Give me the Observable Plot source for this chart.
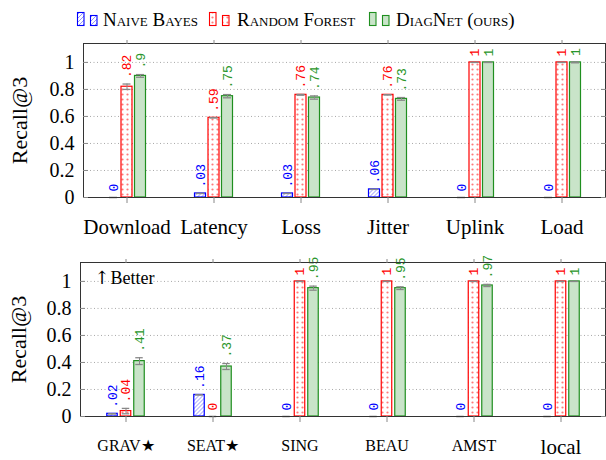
<!DOCTYPE html>
<html><head><meta charset="utf-8">
<script src="https://cdn.jsdelivr.net/npm/d3@7"></script>
<script src="https://cdn.jsdelivr.net/npm/@observablehq/plot@0.6"></script>
<style>
body{margin:0;background:#fff;width:606px;height:460px;overflow:hidden;font-family:"Liberation Serif",serif;}
#legend,#top,#bot{display:block;}
#top svg,#bot svg{display:block;}
</style></head><body>
<svg id="legend" width="606" height="32" xmlns="http://www.w3.org/2000/svg">
<defs>
<pattern id="hatch" width="4" height="4" patternUnits="userSpaceOnUse">
<rect width="4" height="4" fill="#fff"/>
<path d="M-1,1 l2,-2 M0,4 l4,-4 M3,5 l2,-2" stroke="#4a4aff" stroke-width="0.6"/>
</pattern>
<pattern id="dots" width="5" height="5" patternUnits="userSpaceOnUse">
<rect width="5" height="5" fill="#fff"/>
<circle cx="2.5" cy="2.5" r="1.1" fill="#ff7a7a"/>
</pattern>
</defs>
<g id="legend-items"></g>
</svg>
<div id="top"></div>
<div id="bot"></div>
<script>
// ---- data ----
const seriesNames = ["Naive Bayes", "Random Forest", "DiagNet (ours)"];
const yTicks = [0, 0.2, 0.4, 0.6, 0.8, 1];
const yLabel = "Recall@3";

const topCats = ["Download", "Latency", "Loss", "Jitter", "Uplink", "Load"];
const topNB = [0, 0.03, 0.03, 0.06, 0, 0];
const topRF = [0.82, 0.59, 0.76, 0.76, 1, 1];
const topDN = [0.90, 0.75, 0.74, 0.73, 1, 1];
const topNBErr = [0, 0, 0, 0, 0, 0];
const topRFErr = [0.02, 0, 0.003, 0, 0, 0];
const topDNErr = [0.01, 0.012, 0.012, 0.01, 0, 0.003];

const botCats = ["GRAV★", "SEAT★", "SING", "BEAU", "AMST", "local"];
const botNB = [0.02, 0.16, 0, 0, 0, 0];
const botRF = [0.04, 0, 1, 1, 1, 1];
const botDN = [0.41, 0.37, 0.95, 0.95, 0.97, 1];
const botNBErr = [0, 0, 0, 0, 0, 0];
const botRFErr = [0.02, 0, 0, 0, 0, 0];
const botDNErr = [0.025, 0.022, 0.015, 0.01, 0.008, 0];

// ---- styles ----
const strokes = ["#0000ff", "#ff0000", "#1f8f1f"];
const fills = ["url(#hatch)", "url(#dots)", "#c9e4c9"];
const labelColors = ["#0000ff", "#ff0000", "#2a962a"];
const offsets = [-13.5, 0, 13.5];
const W = 606;

// legend
(function () {
  const g = d3.select("#legend-items");
  const items = [
    {x: 77, tx: 103},
    {x: 209, tx: 237},
    {x: 369, tx: 396}
  ];
  items.forEach((it, j) => {
    g.append("rect").attr("x", it.x + 0.5).attr("y", 12.5).attr("width", 6.5).attr("height", 13)
      .attr("fill", fills[j]).attr("stroke", strokes[j]).attr("stroke-width", 1.1);
    g.append("rect").attr("x", it.x + 13.5).attr("y", 15.5).attr("width", 6.5).attr("height", 10)
      .attr("fill", fills[j]).attr("stroke", strokes[j]).attr("stroke-width", 1.1);
    g.append("text").attr("x", it.tx).attr("y", 26)
      .style("font-family", "Liberation Serif").style("font-size", "19px")
      .style("font-variant", "small-caps").text(seriesNames[j]);
  });
})();

const fmt = v => v === 0 ? "0" : v === 1 ? "1" : String(v).replace(/^0\./, ".");

function panel(cats, vals, errs, o) {
  const marginRight = 1;
  const step = (W - o.marginLeft - marginRight) / cats.length;
  const barW = 11, capW = 8;
  const bi = (step - barW) / 2, ci = (step - capW) / 2;
  const idx = d3.range(cats.length);
  const marks = [
    Plot.gridY(yTicks.slice(1), {stroke: "#a8a8a8", strokeOpacity: 1, strokeDasharray: "1,2.5"})
  ];
  vals.forEach((v, j) => {
    marks.push(Plot.barY(idx, {x: i => cats[i], y: i => v[i], fill: fills[j], stroke: strokes[j],
      strokeWidth: 1.2, insetLeft: bi, insetRight: bi, dx: offsets[j]}));
  });
  vals.forEach((v, j) => {
    const e = errs[j];
    marks.push(Plot.ruleX(idx, {x: i => cats[i], y1: i => v[i] - e[i], y2: i => v[i] + e[i], stroke: "#888", strokeWidth: 1, dx: offsets[j]}));
    marks.push(Plot.tickY(idx, {x: i => cats[i], y: i => v[i] + e[i], stroke: "#888", strokeWidth: 1.3, inset: ci, dx: offsets[j]}));
    marks.push(Plot.tickY(idx, {x: i => cats[i], y: i => Math.max(0, v[i] - e[i]), stroke: "#888", strokeWidth: 1.3, inset: ci, dx: offsets[j]}));
    marks.push(Plot.text(idx, {x: i => cats[i], y: i => v[i] + e[i], text: i => fmt(v[i]), rotate: -90,
      textAnchor: "start", lineAnchor: "middle", dx: offsets[j], dy: -6, fill: labelColors[j],
      fontFamily: "Liberation Mono", fontSize: 13}));
  });
  marks.push(Plot.frame({stroke: "#333", strokeWidth: 1}));
  marks.push(Plot.axisY(yTicks, {anchor: "left", tickSize: 0, tickPadding: 9, tickFormat: d => String(d),
    fontSize: 20, label: null}));
  marks.push(Plot.text([yLabel], {text: d => d, frameAnchor: "left", dx: o.labelDx, rotate: -90,
    textAnchor: "middle", lineAnchor: "middle", fontSize: 22, fill: "black"}));
  marks.push(Plot.axisY(yTicks, {anchor: "left", tickSize: -5, tickFormat: () => "", stroke: "#888", label: null}));
  marks.push(Plot.axisY(yTicks, {anchor: "right", tickSize: -5, tickFormat: () => "", stroke: "#888", label: null}));
  marks.push(Plot.axisX({anchor: "top", tickSize: 4, tickFormat: () => "", stroke: "#888", label: null}));
  if (o.smallLabels) {
    marks.push(Plot.axisX({anchor: "bottom", tickSize: 6, tickFormat: () => "", stroke: "#888", label: null}));
    marks.push(Plot.text(cats, {x: d => d, text: d => d, frameAnchor: "bottom", lineAnchor: "top", dy: 23,
      fontSize: d => d === "local" ? 21 : 16, fill: "black"}));
  } else {
    marks.push(Plot.axisX({anchor: "bottom", tickSize: 6, tickPadding: 16, fontSize: 21, stroke: "#888", label: null}));
  }
  if (o.better) {
    marks.push(Plot.text([o.better[0]], {text: d => d, frameAnchor: "top-left", dx: 14, dy: 16,
      textAnchor: "start", lineAnchor: "middle", fontSize: 18, fontFamily: "DejaVu Serif", fill: "black"}));
    marks.push(Plot.text([o.better[1]], {text: d => d, frameAnchor: "top-left", dx: 30, dy: 16,
      textAnchor: "start", lineAnchor: "middle", fontSize: 18, fill: "black"}));
  }
  return Plot.plot({
    width: W, height: o.height,
    marginLeft: o.marginLeft, marginRight, marginTop: o.marginTop, marginBottom: o.marginBottom,
    style: {fontFamily: "Liberation Serif", background: "white", color: "black"},
    x: {type: "band", domain: cats, padding: 0},
    y: {domain: [0, 1.14]},
    marks
  });
}

document.getElementById("top").appendChild(panel(topCats, [topNB, topRF, topDN], [topNBErr, topRFErr, topDNErr],
  {height: 208, marginLeft: 83, marginTop: 11, marginBottom: 43, labelDx: -64}));
document.getElementById("bot").appendChild(panel(botCats, [botNB, botRF, botDN], [botNBErr, botRFErr, botDNErr],
  {height: 220, marginLeft: 80, marginTop: 22, marginBottom: 44, labelDx: -62, smallLabels: true, better: ["↑", "Better"]}));
</script>
</body></html>
